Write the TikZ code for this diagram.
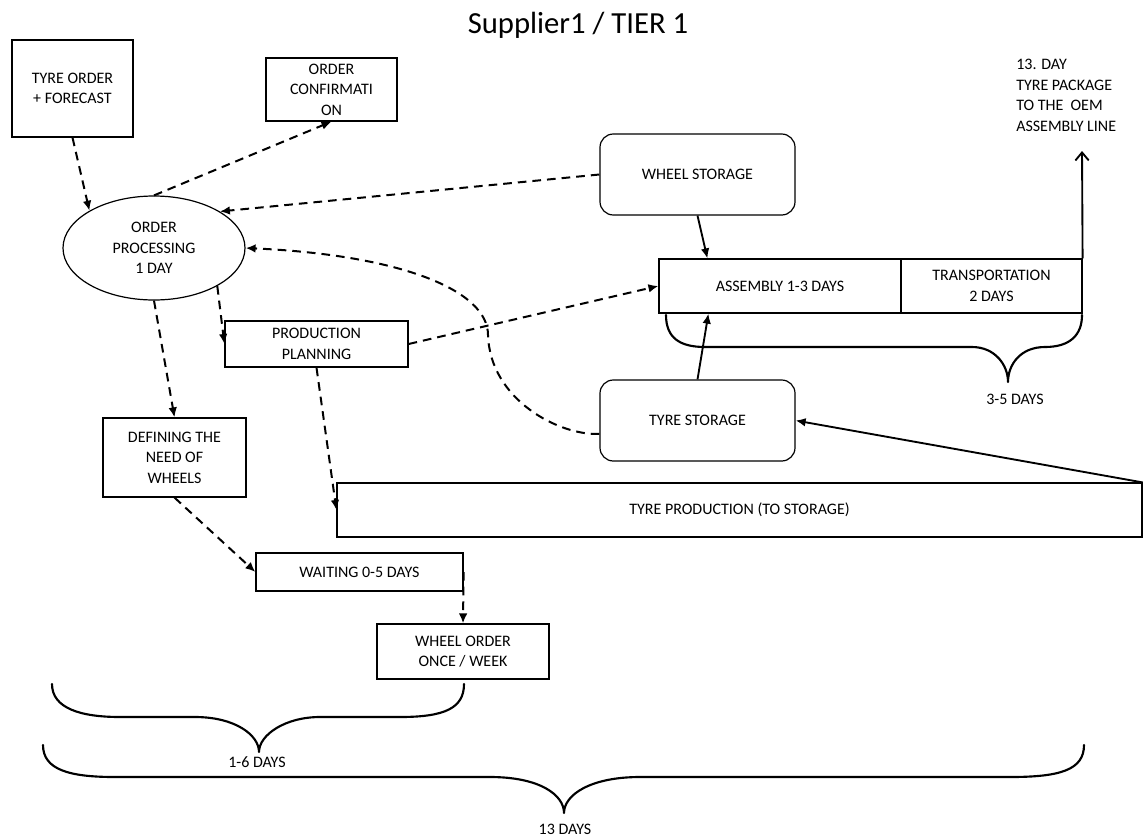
\documentclass[tikz,border=0pt]{standalone}
\usepackage{fontspec}
\setmainfont{Carlito}
\usetikzlibrary{arrows.meta,shapes.geometric,calc}
\begin{document}
\begin{tikzpicture}[x=0.75pt,y=-0.75pt,
  every node/.style={font=\fontsize{12}{15.4}\selectfont, align=center, inner sep=0pt},
  box/.style={draw, line width=0.9pt},
  store/.style={draw, line width=0.9pt, rounded corners=10pt},
  flow/.style={line width=1.5pt, dash pattern=on 6.5pt off 4.5pt, -{Latex[length=7.5pt,width=6.5pt]}},
  feed/.style={line width=1.4pt, -{Latex[length=7.5pt,width=6.5pt]}},
  brace/.style={line width=1.6pt, line join=round, line cap=round},
]
\useasboundingbox (0,0) rectangle (1144,839);

% title
\node[anchor=base, font=\fontsize{23}{28}\selectfont] (title) at (578,33) {Supplier1 / TIER 1};

% order handling
\node[box, minimum width=90.75pt, minimum height=72.75pt] (order) at (72.5,88.5) {TYRE ORDER\\+ FORECAST};
\node[box, minimum width=98.25pt, minimum height=47.25pt] (confirm) at (331.5,89.5) {ORDER\\CONFIRMATI\\ON};
\node[draw, ellipse, line width=0.9pt, minimum width=136.5pt, minimum height=78pt] (proc) at (154,248) {ORDER\\PROCESSING\\1 DAY};
\node[box, minimum width=137.25pt, minimum height=34.5pt] (plan) at (316.5,344) {PRODUCTION\\PLANNING};
\node[box, minimum width=107.25pt, minimum height=59.25pt] (need) at (174.5,457.5) {DEFINING THE\\NEED OF\\WHEELS};
\node[box, minimum width=155.25pt, minimum height=28.5pt] (wait) at (359.5,572) {WAITING 0-5 DAYS};
\node[box, minimum width=129pt, minimum height=41.25pt] (wheelorder) at (463,651.5) {WHEEL ORDER\\ONCE / WEEK};

% storages, assembly and production
\node[store, minimum width=146.25pt, minimum height=60.75pt] (wstore) at (697.5,174.5) {WHEEL STORAGE};
\node[store, minimum width=146.25pt, minimum height=60.75pt] (tstore) at (697.5,420.5) {TYRE STORAGE};
\node[box, minimum width=181.5pt, minimum height=40.5pt] (asm) at (780,286) {ASSEMBLY 1-3 DAYS};
\node[box, minimum width=135.75pt, minimum height=40.5pt] (trans) at (991.5,286) {TRANSPORTATION\\2 DAYS};
\node[box, minimum width=603.75pt, minimum height=40.5pt] (prod) at (739.5,510) {TYRE PRODUCTION (TO STORAGE)};

% delivery note
\node[anchor=west, align=left, font=\fontsize{12}{15.4}\selectfont] (deliv) at (1016,95.5) {13. DAY\\TYRE PACKAGE\\TO THE \ OEM\\ASSEMBLY LINE};
\coordinate (oem) at (1082,151);

% dashed information flows
\draw[flow] (order.south) -- (proc.150);
\draw[flow] (proc.north) -- (confirm.south);
\draw[flow] (wstore.west) -- (proc.29);
\draw[flow] ([yshift=-10pt]tstore.west) .. controls (560,436) and (490,400) .. (488,335)
            .. controls (488,290) and (400,255) .. (proc.east);
\draw[flow] (proc.-31) -- (plan.west);
\draw[flow] (proc.south) -- (need.north);
\draw[flow] (plan.east) -- (asm.west);
\draw[flow] (plan.south) -- (prod.west);
\draw[flow] (need.south) -- (wait.west);
\draw[flow] (wait.east) -- (wheelorder.north);

% material flows
\draw[feed] (wstore.south) -- ($(asm.north west)+(49,0)$);
\draw[feed] (tstore.north) -- ($(asm.south west)+(50,0)$);
\draw[feed] (prod.north east) -- (tstore.east);
\draw[line width=1.4pt, -{Straight Barb[length=6pt,width=10pt]}] (trans.north east) -- (oem);

% lead-time braces
\draw[brace] (666,315) .. controls (666,338) and (680,347) .. (705,347) -- (972,347)
  .. controls (995,347) and (1008,365) .. (1008,382)
  .. controls (1008,365) and (1020,347) .. (1045,347)
  .. controls (1070,347) and (1082,335) .. (1082,315);
\node (d35) at (1015,399) {3-5 DAYS};

\draw[brace] (52,684) .. controls (52,708) and (80,717) .. (120,717) -- (195,717)
  .. controls (235,717) and (259,735) .. (259,752)
  .. controls (259,735) and (285,717) .. (320,717) -- (400,717)
  .. controls (445,717) and (464,708) .. (464,684);
\node (d16) at (257,762) {1-6 DAYS};

\draw[brace] (43,745) .. controls (43,770) and (70,777) .. (115,777) -- (490,777)
  .. controls (540,777) and (564,795) .. (564,813)
  .. controls (564,795) and (590,777) .. (640,777) -- (1010,777)
  .. controls (1060,777) and (1084,770) .. (1084,745);
\node (d13) at (565,829) {13 DAYS};
\end{tikzpicture}
\end{document}
